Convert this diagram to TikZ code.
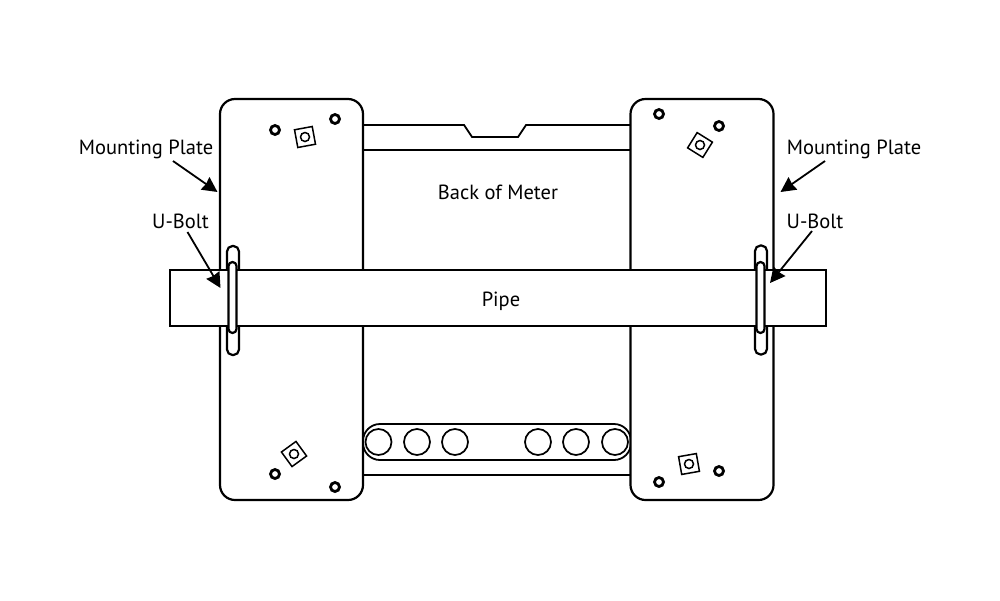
\documentclass[tikz,border=0pt]{standalone}
\usepackage{fontspec}
\setmainfont{PT Sans}
\usetikzlibrary{arrows.meta, calc}
\tikzstyle{plate} = [draw, line width=2.2pt, fill=white, rounded corners=15pt, minimum width=143pt, minimum height=401pt, inner sep=0pt, outer sep=0pt]
\tikzstyle{hole} = [draw, circle, line width=2.8pt, minimum size=9pt, inner sep=0pt]
\tikzstyle{nut} = [draw, line width=1.5pt, minimum size=18pt, inner sep=0pt]
\tikzstyle{nuthole} = [draw, circle, line width=1.5pt, minimum size=9pt, inner sep=0pt]
\tikzstyle{port} = [draw, circle, line width=1.7pt, minimum size=26pt, inner sep=0pt]
\tikzstyle{bolt} = [draw, line width=2.2pt, fill=white, rounded corners=5.5pt, minimum width=12pt, inner sep=0pt]
\tikzstyle{label} = [font=\fontsize{20.5}{22}\selectfont, inner sep=0pt]
\tikzstyle{arrow} = [line width=1.8pt, -{Stealth[length=15pt, width=15pt, inset=1pt]}]

\begin{document}
\begin{tikzpicture}[x=1pt, y=-1pt]
        \useasboundingbox (0,0) rectangle (1000,600);

        % back of the meter
        \coordinate (notchL) at (363,125);
        \coordinate (notchR) at (631,125);
        \draw[line width=1.8pt] (notchL) -- (464,125) -- (472,137) -- (518,137) -- (526,125) -- (notchR);
        \coordinate (edgeL) at (363,150);
        \coordinate (edgeR) at (631,150);
        \draw[line width=2.2pt] (edgeL) -- (edgeR);
        \coordinate (footL) at (363,475);
        \coordinate (footR) at (631,475);
        \draw[line width=2pt] (footL) -- (footR);

        % terminal strip
        \node at (497,442) [draw, line width=1.8pt, rounded corners=17pt, minimum width=268pt, minimum height=36pt, inner sep=0pt](strip) {};
        \foreach \px/\name in {378.5/a, 417/b, 455/c, 538/d, 576/e, 615/f}
            \node at (\px,442) [port](port\name) {};

        % plates
        \node at (291.5,299.5) [plate](plateL) {};
        \node at (702,299.5) [plate](plateR) {};

        \node at (275,130) [hole](holeA) {};
        \node at (335,119) [hole](holeB) {};
        \node at (305,137) [nut, rotate=10.5](nutA) {};
        \node at (305,137) [nuthole](nutholeA) {};

        \node at (275,474) [hole](holeC) {};
        \node at (335,487) [hole](holeD) {};
        \node at (294,454) [nut, rotate=36](nutB) {};
        \node at (294,454) [nuthole](nutholeB) {};

        \node at (659,114) [hole](holeE) {};
        \node at (719,126) [hole](holeF) {};
        \node at (700,145) [nut, rotate=-32](nutC) {};
        \node at (700,145) [nuthole](nutholeC) {};

        \node at (659,482) [hole](holeG) {};
        \node at (719,471) [hole](holeH) {};
        \node at (689,464) [nut, rotate=10](nutD) {};
        \node at (689,464) [nuthole](nutholeD) {};

        % pipe and u-bolts
        \node at (233,300.5) [bolt, minimum height=109pt](boltOutL) {};
        \node at (761,300) [bolt, minimum height=109pt](boltOutR) {};
        \node at (498,298) [draw, line width=1.8pt, fill=white, minimum width=656pt, minimum height=56pt, inner sep=0pt](pipe) {};
        \node at (232.5,297.5) [bolt, minimum width=8pt, minimum height=71pt, rounded corners=4pt](boltInL) {};
        \node at (760.5,297.5) [bolt, minimum width=8pt, minimum height=71pt, rounded corners=4pt](boltInR) {};

        % labels
        \node at (146,149) [label](mountL) {Mounting Plate};
        \node at (854,149) [label](mountR) {Mounting Plate};
        \node at (180.5,221) [label](uboltL) {U-Bolt};
        \node at (815,221) [label](uboltR) {U-Bolt};
        \node at (498,192) [label](meter) {Back of Meter};
        \node at (501,301) [label](pipetext) {Pipe};

        \coordinate (tipA) at (217.5,192);
        \coordinate (tipB) at (780.5,192);
        \coordinate (tipC) at (220.5,288);
        \coordinate (tipD) at (770,283);
        \draw[arrow] (173,161) -- (tipA);
        \draw[arrow] (825,161) -- (tipB);
        \draw[arrow] (uboltL) ++(7,11) -- (tipC);
        \draw[arrow] (uboltR) ++(-3,10) -- (tipD);

    \end{tikzpicture}
\end{document}
